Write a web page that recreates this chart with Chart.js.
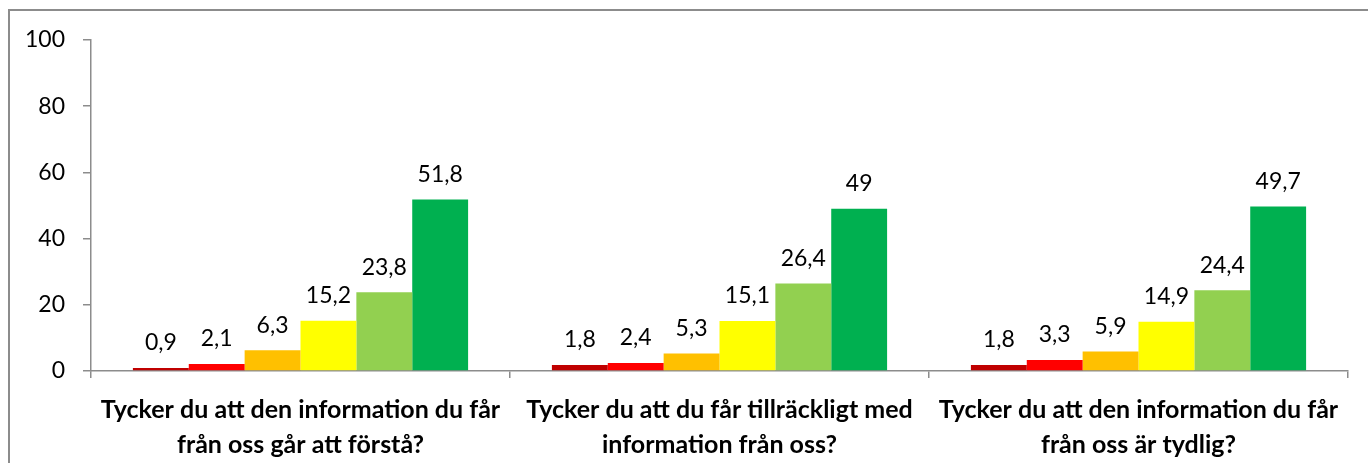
<!DOCTYPE html>
<html>
<head>
<meta charset="utf-8">
<script src="https://cdn.jsdelivr.net/npm/chart.js@4"></script>
<style>
  html, body { margin: 0; padding: 0; background: #fff; }
  #wrap { position: relative; width: 1368px; height: 463px; }
  #frame { position: absolute; left: 8px; top: 9px; right: -4px; bottom: -4px;
           border-left: 2px solid #8c8c8c; border-top: 2px solid #8c8c8c; pointer-events: none; }
</style>
</head>
<body>
<div id="wrap">
  <canvas id="chart" width="1368" height="463"></canvas>
  <div id="frame"></div>
</div>
<script>
// ---- data ----
const categories = [
    ["Tycker du att den information du får", "från oss går att förstå?"],
    ["Tycker du att du får tillräckligt med", "information från oss?"],
    ["Tycker du att den information du får", "från oss är tydlig?"]
];
const seriesNames = ["1", "2", "3", "4", "5", "6"];
const series1 = [0.9, 1.8, 1.8];
const series2 = [2.1, 2.4, 3.3];
const series3 = [6.3, 5.3, 5.9];
const series4 = [15.2, 15.1, 14.9];
const series5 = [23.8, 26.4, 24.4];
const series6 = [51.8, 49, 49.7];
const yTicks = [0, 20, 40, 60, 80, 100];

const colors = ["#C00000", "#FF0000", "#FFC000", "#FFFF00", "#92D050", "#00B050"];
const allSeries = [series1, series2, series3, series4, series5, series6];
const fontFamily = "Lato, 'Noto Sans', sans-serif";

// etiketter ovanför staplarna
const barLabels = {
    id: "barLabels",
    afterDatasetsDraw(chart) {
        const ctx = chart.ctx;
        ctx.save();
        ctx.font = "23px " + fontFamily;
        ctx.fillStyle = "#000";
        ctx.textAlign = "center";
        ctx.textBaseline = "middle";
        chart.data.datasets.forEach((ds, i) => {
            chart.getDatasetMeta(i).data.forEach((bar, j) => {
                const txt = String(ds.data[j]).replace(".", ",");
                ctx.fillText(txt, bar.x, bar.y - 25);
            });
        });
        ctx.restore();
    }
};

new Chart(document.getElementById("chart"), {
    type: "bar",
    data: {
        labels: categories,
        datasets: allSeries.map((d, i) => ({
            label: seriesNames[i],
            data: d,
            backgroundColor: colors[i],
            borderWidth: 0,
            categoryPercentage: 0.8,
            barPercentage: 1.0
        }))
    },
    options: {
        responsive: false,
        animation: false,
        layout: { padding: { top: 40, right: 20, left: 0, bottom: 0 } },
        plugins: { legend: { display: false }, tooltip: { enabled: false } },
        scales: {
            x: {
                grid: { offset: true, drawOnChartArea: false, drawTicks: true, tickLength: 7, color: "#8c8c8c", lineWidth: 1.5 },
                border: { display: true, color: "#8c8c8c", width: 1.5 },
                ticks: {
                    color: "#000",
                    font: { family: fontFamily, size: 25, weight: "bold", lineHeight: 1.42 },
                    maxRotation: 0,
                    autoSkip: false,
                    padding: 14
                },
                afterFit(scale) { scale.height = 92; }
            },
            y: {
                min: 0,
                max: 100,
                afterBuildTicks(scale) { scale.ticks = yTicks.map(v => ({ value: v })); },
                grid: { drawOnChartArea: false, drawTicks: true, tickLength: 8, color: "#8c8c8c", lineWidth: 1.5 },
                border: { display: true, color: "#8c8c8c", width: 1.5 },
                ticks: {
                    color: "#000",
                    font: { family: fontFamily, size: 23 },
                    padding: 18
                },
                afterFit(scale) { scale.width = 91; }
            }
        }
    },
    plugins: [barLabels]
});
</script>
</body>
</html>
